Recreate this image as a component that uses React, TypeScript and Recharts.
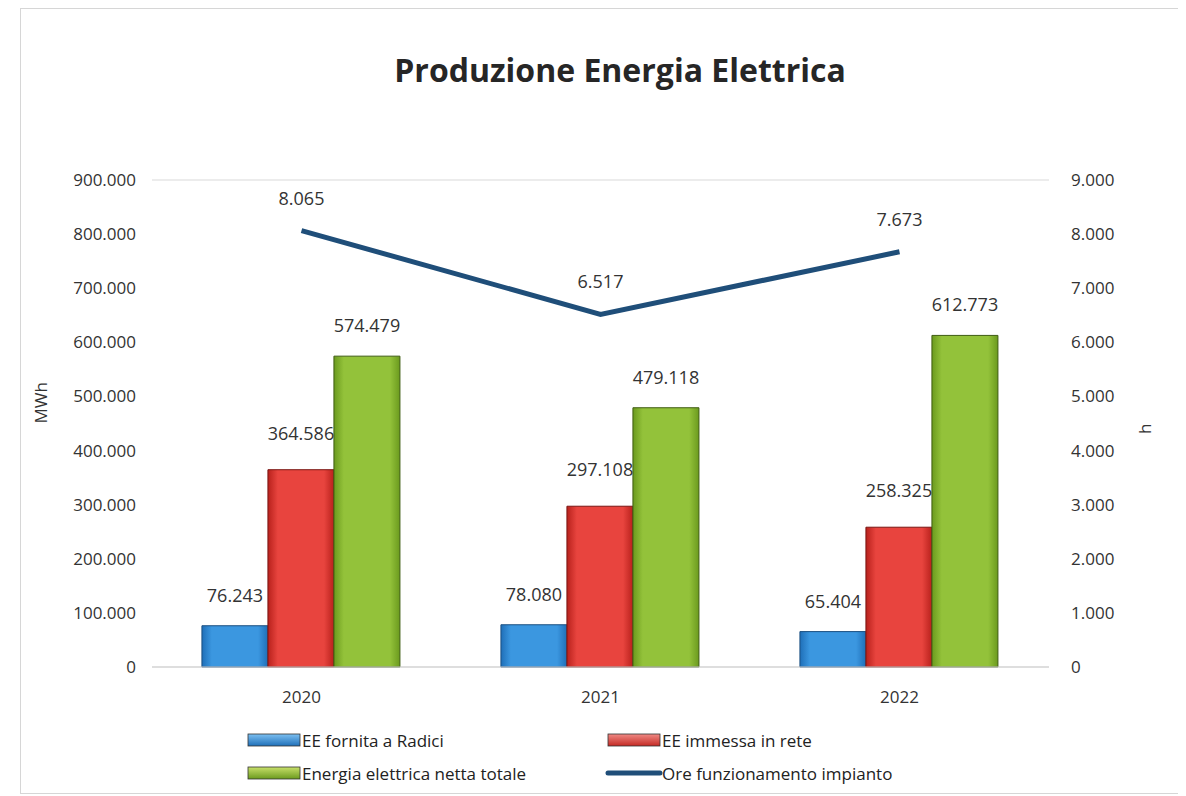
import { ComposedChart, Bar, Line, XAxis, YAxis, CartesianGrid, LabelList } from 'recharts'

// anni e serie
const years = ['2020', '2021', '2022']
const eeRadici = [76243, 78080, 65404]
const eeRete = [364586, 297108, 258325]
const eeTotale = [574479, 479118, 612773]
const oreImpianto = [8065, 6517, 7673]

const mwhTicks = [0, 100000, 200000, 300000, 400000, 500000, 600000, 700000, 800000, 900000]
const hTicks = [0, 1000, 2000, 3000, 4000, 5000, 6000, 7000, 8000, 9000]

const data = years.map((year, i) => ({
  year,
  radici: eeRadici[i],
  rete: eeRete[i],
  totale: eeTotale[i],
  ore: oreImpianto[i],
}))

const FONT = '"Open Sans", "Noto Sans", sans-serif'
const TEXT = '#333'

// formato italiano: 900.000
const fmt = (v: number) => (v === 0 ? '0' : String(v).replace(/\B(?=(\d{3})+(?!\d))/g, '.'))

const legendItems = [
  { name: 'EE fornita a Radici', fill: 'url(#gBlue)', line: false, x: 248, y: 740 },
  { name: 'EE immessa in rete', fill: 'url(#gRed)', line: false, x: 608, y: 740 },
  { name: 'Energia elettrica netta totale', fill: 'url(#gGreen)', line: false, x: 248, y: 773 },
  { name: 'Ore funzionamento impianto', fill: '#1f4e79', line: true, x: 608, y: 773 },
]

export default function App() {
  return (
    <div
      style={{
        position: 'relative',
        width: 1160,
        height: 784,
        marginLeft: 12,
        border: '1px solid #d6d6d6',
        background: '#fff',
        fontFamily: FONT,
      }}
    >
      <div
        style={{
          position: 'absolute',
          top: 39,
          left: 0,
          width: 1198,
          textAlign: 'center',
          fontSize: 32,
          fontWeight: 700,
          color: '#262626',
        }}
      >
        Produzione Energia Elettrica
      </div>
      <div style={{ position: 'absolute', left: -21, top: -9 }}>
        <ComposedChart
          width={1180}
          height={790}
          data={data}
          margin={{ top: 180, right: 31, bottom: 93, left: 20 }}
          barCategoryGap="16.7%"
          barGap={0}
        >
          <defs>
            <linearGradient id="gBlue" x1="0" y1="0" x2="1" y2="0">
              <stop offset="0" stopColor="#1f6fb8" />
              <stop offset="0.15" stopColor="#3b97e0" />
              <stop offset="0.85" stopColor="#3b97e0" />
              <stop offset="1" stopColor="#1f6fb8" />
            </linearGradient>
            <linearGradient id="gRed" x1="0" y1="0" x2="1" y2="0">
              <stop offset="0" stopColor="#b8211c" />
              <stop offset="0.15" stopColor="#e8443e" />
              <stop offset="0.85" stopColor="#e8443e" />
              <stop offset="1" stopColor="#b8211c" />
            </linearGradient>
            <linearGradient id="gGreen" x1="0" y1="0" x2="1" y2="0">
              <stop offset="0" stopColor="#6b9a1e" />
              <stop offset="0.15" stopColor="#93c23a" />
              <stop offset="0.85" stopColor="#93c23a" />
              <stop offset="1" stopColor="#6b9a1e" />
            </linearGradient>
          </defs>
          <CartesianGrid vertical={false} stroke="#d9d9d9" />
          <XAxis
            dataKey="year"
            axisLine={{ stroke: '#d0d0d0' }}
            tickLine={false}
            tickMargin={18}
            tick={{ fill: TEXT, fontSize: 17, fontFamily: FONT }}
          />
          <YAxis
            yAxisId="mwh"
            width={132}
            domain={[0, 900000]}
            ticks={mwhTicks}
            tickFormatter={fmt}
            axisLine={false}
            tickLine={false}
            tickSize={0}
            tickMargin={16}
            tick={{ fill: TEXT, fontSize: 17, fontFamily: FONT }}
            label={{ value: 'MWh', angle: -90, position: 'insideLeft', offset: 21, fill: TEXT, fontSize: 17, fontFamily: FONT }}
          />
          <YAxis
            yAxisId="h"
            orientation="right"
            width={100}
            domain={[0, 9000]}
            ticks={hTicks}
            tickFormatter={fmt}
            axisLine={false}
            tickLine={false}
            tickSize={0}
            tickMargin={22}
            tick={{ fill: TEXT, fontSize: 17, fontFamily: FONT }}
            label={{ value: 'h', angle: -90, position: 'insideRight', offset: 4, fill: TEXT, fontSize: 17, fontFamily: FONT }}
          />
          <Bar yAxisId="mwh" dataKey="radici" name="EE fornita a Radici" fill="url(#gBlue)" stroke="#1a4f80" strokeWidth={1} isAnimationActive={false}>
            <LabelList dataKey="radici" position="top" offset={24} formatter={(v: any) => fmt(Number(v))} fill={TEXT} fontSize={18} fontFamily={FONT} />
          </Bar>
          <Bar yAxisId="mwh" dataKey="rete" name="EE immessa in rete" fill="url(#gRed)" stroke="#7a1512" strokeWidth={1} isAnimationActive={false}>
            <LabelList dataKey="rete" position="top" offset={30} formatter={(v: any) => fmt(Number(v))} fill={TEXT} fontSize={18} fontFamily={FONT} />
          </Bar>
          <Bar yAxisId="mwh" dataKey="totale" name="Energia elettrica netta totale" fill="url(#gGreen)" stroke="#3f5c12" strokeWidth={1} isAnimationActive={false}>
            <LabelList dataKey="totale" position="top" offset={24} formatter={(v: any) => fmt(Number(v))} fill={TEXT} fontSize={18} fontFamily={FONT} />
          </Bar>
          <Line
            yAxisId="h"
            type="linear"
            dataKey="ore"
            name="Ore funzionamento impianto"
            stroke="#1f4e79"
            strokeWidth={5}
            dot={false}
            activeDot={false}
            isAnimationActive={false}
          >
            <LabelList dataKey="ore" position="top" offset={26} formatter={(v: any) => fmt(Number(v))} fill={TEXT} fontSize={18} fontFamily={FONT} />
          </Line>
        </ComposedChart>
      </div>
      <svg style={{ position: 'absolute', left: -21, top: -9, pointerEvents: 'none' }} width={1180} height={790}>
        <defs>
          <linearGradient id="lgBlue" x1="0" y1="0" x2="0" y2="1">
            <stop offset="0" stopColor="#7cc0f2" />
            <stop offset="1" stopColor="#1f6fb8" />
          </linearGradient>
          <linearGradient id="lgRed" x1="0" y1="0" x2="0" y2="1">
            <stop offset="0" stopColor="#f08a85" />
            <stop offset="1" stopColor="#c42a24" />
          </linearGradient>
          <linearGradient id="lgGreen" x1="0" y1="0" x2="0" y2="1">
            <stop offset="0" stopColor="#c8e06a" />
            <stop offset="1" stopColor="#6b9a1e" />
          </linearGradient>
        </defs>
        {legendItems.map((it, i) => (
          <g key={i}>
            {it.line ? (
              <line x1={it.x} y1={it.y} x2={it.x + 52} y2={it.y} stroke={it.fill} strokeWidth={5} strokeLinecap="round" />
            ) : (
              <rect
                x={it.x}
                y={it.y - 6}
                width={52}
                height={12}
                fill={i === 0 ? 'url(#lgBlue)' : i === 1 ? 'url(#lgRed)' : 'url(#lgGreen)'}
                stroke="#333"
                strokeWidth={0.8}
              />
            )}
            <text x={it.x + 54} y={it.y} dominantBaseline="central" fill="#222" fontSize={17} fontFamily={FONT}>
              {it.name}
            </text>
          </g>
        ))}
      </svg>
    </div>
  )
}
